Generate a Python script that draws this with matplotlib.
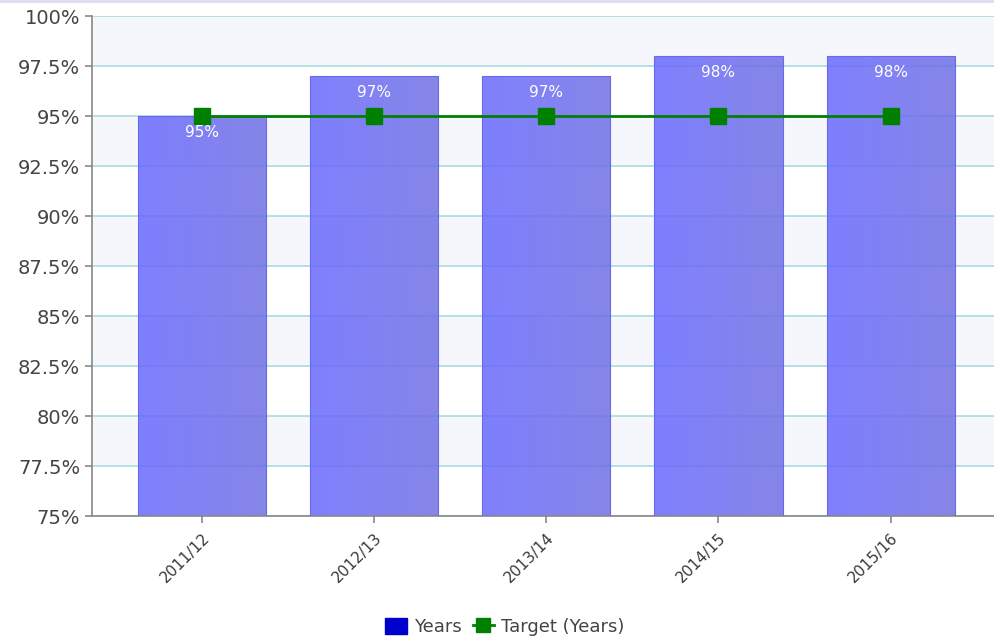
import matplotlib
matplotlib.use("Agg")
import matplotlib.pyplot as plt
import matplotlib.patches as mpatches
from matplotlib.lines import Line2D
from matplotlib.ticker import FuncFormatter
import numpy as np

seasons = ['2011/12', '2012/13', '2013/14', '2014/15', '2015/16']
years_pct = [95, 97, 97, 98, 98]
target_pct = [95, 95, 95, 95, 95]

fig = plt.figure(figsize=(9.94, 6.41), dpi=100)
ax = fig.add_axes([0.0926, 0.195, 0.9074, 0.780])

ymin, ymax = 75, 100
ax.set_ylim(ymin, ymax)
ax.set_xlim(-0.638, 4.6)

# alternating background bands
for lo in np.arange(77.5, 100, 5.0):
    ax.axhspan(lo, lo + 2.5, color='#f5f7fd', zorder=0, lw=0)

yticks = np.arange(75, 100.1, 2.5)
ax.set_yticks(yticks)
ax.yaxis.grid(True, color='#a8dce2', linewidth=1.2, zorder=1)
ax.set_axisbelow(True)
ax.yaxis.set_major_formatter(FuncFormatter(lambda v, p: f'{v:g}%'))

# bars with a horizontal gradient
bar_w = 0.745
grad = np.linspace(0, 1, 64)[None, :]
left_c = np.array([105, 105, 255]) / 255
right_c = np.array([112, 112, 228]) / 255
img = left_c[None, None, :] * (1 - grad[..., None]) + right_c[None, None, :] * grad[..., None]
for i, v in enumerate(years_pct):
    x0 = i - bar_w / 2
    rect = mpatches.Rectangle((x0, ymin), bar_w, v - ymin, facecolor='none',
                              edgecolor='#6a6ae8', linewidth=0.8, zorder=3)
    ax.add_patch(rect)
    im = ax.imshow(img, extent=(x0, x0 + bar_w, ymin, v), aspect='auto',
                   alpha=0.85, zorder=2, interpolation='bilinear')
    im.set_clip_path(rect)
    ax.annotate(f'{v}%', (i, v), xytext=(0, -12), textcoords='offset points',
                ha='center', va='center', color='white', fontsize=11, zorder=5)

ax.set_xlim(-0.638, 4.6)
ax.set_ylim(ymin, ymax)

ax.plot(range(len(seasons)), target_pct, color='#008000', linewidth=2,
        marker='s', markersize=11.5, markerfacecolor='#008000',
        markeredgecolor='#008000', zorder=4)

ax.set_xticks(range(len(seasons)))
ax.set_xticklabels(seasons, rotation=45, ha='right', rotation_mode='anchor',
                   fontsize=11, color='#3a3a3a')
ax.tick_params(axis='y', labelsize=14, colors='#444444', length=5,
               color='#888888', width=1.2)
ax.tick_params(axis='x', length=5, color='#888888', width=1.2, pad=5)

for side in ['top', 'right']:
    ax.spines[side].set_visible(False)
for side in ['left', 'bottom']:
    ax.spines[side].set_color('#888888')
    ax.spines[side].set_linewidth(1.2)

handles = [
    mpatches.Patch(facecolor='#0000cc', edgecolor='#0000cc', label='Years'),
    Line2D([], [], color='#008000', linewidth=2, marker='s', markersize=10,
           label='Target (Years)'),
]
fig.legend(handles=handles, loc='center', bbox_to_anchor=(0.508, 0.022),
           ncol=2, frameon=False, fontsize=13, handlelength=1.2,
           handleheight=1.0, handletextpad=0.4, columnspacing=0.6,
           labelcolor='#444444')

# thin border line along the top edge
fig.add_artist(Line2D([0, 1], [0.998, 0.998], color='#dcdcf4', linewidth=2,
                      transform=fig.transFigure))

fig.savefig('out.png', dpi=100)
